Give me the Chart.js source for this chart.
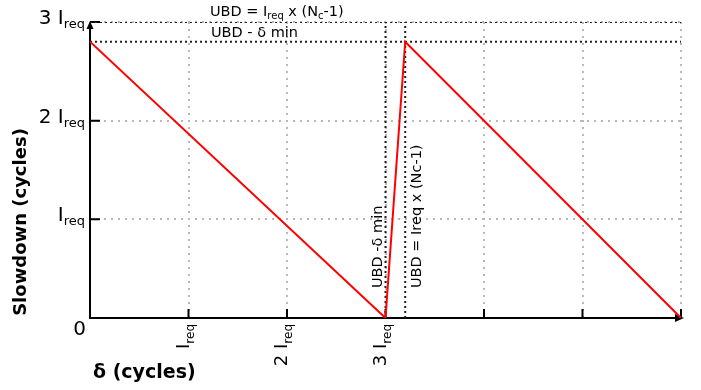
<!DOCTYPE html>
<html>
<head>
<meta charset="utf-8">
<script src="https://cdn.jsdelivr.net/npm/chart.js@4"></script>
<style>
  html, body { margin: 0; padding: 0; background: #fff; }
  #wrap { width: 701px; height: 390px; }
</style>
</head>
<body>
<div id="wrap"><canvas id="c" width="701" height="390"></canvas></div>
<script>
const FONT = '"DejaVu Sans", sans-serif';

// Sawtooth slowdown curve; δ and slowdown are both in units of I_req
const deltaPoints = [0, 3, 3.2, 6];
const slowdownPoints = [2.8, 0, 2.8, 0];

// Reference levels
const ubdLevel = 3;            // UBD = I_req x (N_c-1)
const ubdMinusDeltaMin = 2.8;  // UBD - δ min
const guideDeltas = [3, 3.2];  // same two bounds marked on the δ axis

// Axis tick labels: prefix followed by I_req
const xTickValues = [1, 2, 3];
const xTickPrefixes = ['', '2 ', '3 '];
const yTickValues = [1, 2, 3];
const yTickPrefixes = ['', '2 ', '3 '];
const xTickMarks = [1, 2, 3, 4, 5, 6];
const xMax = 6;
const yMax = 3;

const GUIDE_COLOR = '#222';
const GRID_COLOR = '#b8b8b8';
const NOTE_SIZE = 14.5;

// Draw a run of text pieces; pieces flagged "sub" are smaller and lowered
function drawRich(ctx, parts, x, y, mainSize, subSize, subDrop, align) {
  const fontFor = p => (p.sub ? subSize : mainSize) + 'px ' + FONT;
  let total = 0;
  parts.forEach(p => { ctx.font = fontFor(p); total += ctx.measureText(p.t).width; });
  let cx = align === 'right' ? x - total : x;
  ctx.textAlign = 'left';
  ctx.textBaseline = 'alphabetic';
  parts.forEach(p => {
    ctx.font = fontFor(p);
    ctx.fillText(p.t, cx, p.sub ? y + subDrop : y);
    cx += ctx.measureText(p.t).width;
  });
}

const reqParts = prefix => [{ t: prefix + 'I' }, { t: 'req', sub: true }];

const axesPlugin = {
  id: 'axesPlugin',
  beforeDatasetsDraw(chart) {
    const { ctx, scales: { x, y } } = chart;
    const x0 = x.getPixelForValue(0), xEnd = x.getPixelForValue(xMax);
    const y0 = y.getPixelForValue(0), yTop = y.getPixelForValue(yMax);
    ctx.save();
    ctx.strokeStyle = '#000';
    ctx.fillStyle = '#000';
    ctx.lineWidth = 2;
    ctx.setLineDash([]);
    // axis lines
    ctx.beginPath();
    ctx.moveTo(x0, y0 + 1);
    ctx.lineTo(x0, yTop + 6);
    ctx.moveTo(x0 - 1, y0);
    ctx.lineTo(xEnd - 6, y0);
    ctx.stroke();
    // arrow heads
    ctx.beginPath();
    ctx.moveTo(x0, yTop - 1);
    ctx.lineTo(x0 - 3.5, yTop + 7);
    ctx.lineTo(x0 + 3.5, yTop + 7);
    ctx.closePath();
    ctx.fill();
    ctx.beginPath();
    ctx.moveTo(xEnd + 3, y0);
    ctx.lineTo(xEnd - 6, y0 - 4);
    ctx.lineTo(xEnd - 6, y0 + 4);
    ctx.closePath();
    ctx.fill();
    // inward tick marks
    ctx.beginPath();
    yTickValues.forEach(v => {
      const py = y.getPixelForValue(v);
      ctx.moveTo(x0, py);
      ctx.lineTo(x0 + 10, py);
    });
    xTickMarks.forEach(v => {
      const px = x.getPixelForValue(v);
      ctx.moveTo(px, y0);
      ctx.lineTo(px, y0 - 9);
    });
    ctx.stroke();
    ctx.restore();
  },
  afterDraw(chart) {
    const { ctx, scales: { x, y } } = chart;
    const x0 = x.getPixelForValue(0);
    const y0 = y.getPixelForValue(0);
    ctx.save();
    ctx.fillStyle = '#000';

    // y tick labels
    yTickValues.forEach((v, i) => {
      const py = y.getPixelForValue(v);
      drawRich(ctx, reqParts(yTickPrefixes[i]), x0 - 5, py + 2, 20, 13, 4, 'right');
    });
    ctx.font = '20px ' + FONT;
    ctx.textAlign = 'right';
    ctx.textBaseline = 'alphabetic';
    ctx.fillText('0', x0 - 4, y0 + 17);

    // x tick labels, rotated to read upward
    xTickValues.forEach((v, i) => {
      const px = x.getPixelForValue(v);
      ctx.save();
      ctx.translate(px, y0 + 6);
      ctx.rotate(-Math.PI / 2);
      drawRich(ctx, reqParts(xTickPrefixes[i]), 0, 0, 18, 12, 5, 'right');
      ctx.restore();
    });

    // horizontal guide captions
    const yUbd = y.getPixelForValue(ubdLevel);
    const yUbdMin = y.getPixelForValue(ubdMinusDeltaMin);
    drawRich(ctx, [
      { t: 'UBD = I' }, { t: 'req', sub: true }, { t: ' x (N' }, { t: 'c', sub: true }, { t: '-1)' }
    ], 210, yUbd - 6.5, NOTE_SIZE, 10, 3.5, 'left');
    drawRich(ctx, [{ t: 'UBD - δ min' }], 211, yUbdMin - 5, NOTE_SIZE, 10, 3.5, 'left');

    // vertical guide captions
    const xg0 = x.getPixelForValue(guideDeltas[0]);
    const xg1 = x.getPixelForValue(guideDeltas[1]);
    ctx.font = NOTE_SIZE + 'px ' + FONT;
    ctx.textAlign = 'left';
    ctx.textBaseline = 'alphabetic';
    ctx.save();
    ctx.translate(xg0 - 4, y0 - 30);
    ctx.rotate(-Math.PI / 2);
    ctx.fillText('UBD -δ min', 0, 0);
    ctx.restore();
    ctx.save();
    ctx.translate(xg1 + 16, y0 - 30);
    ctx.rotate(-Math.PI / 2);
    ctx.fillText('UBD = Ireq x (Nc-1)', 0, 0);
    ctx.restore();

    // axis titles
    ctx.font = 'bold 18px ' + FONT;
    ctx.textBaseline = 'middle';
    ctx.textAlign = 'center';
    ctx.save();
    ctx.translate(21, 222);
    ctx.rotate(-Math.PI / 2);
    ctx.fillText('Slowdown (cycles)', 0, 0);
    ctx.restore();
    ctx.textAlign = 'left';
    ctx.font = 'bold 19px ' + FONT;
    ctx.fillText('δ (cycles)', 93, 373);

    ctx.restore();
  }
};

const guideStyle = {
  borderColor: GUIDE_COLOR,
  borderWidth: 2,
  borderDash: [2, 3],
  pointRadius: 0,
  fill: false
};

const datasets = [
  {
    label: 'Slowdown',
    data: deltaPoints.map((d, i) => ({ x: d, y: slowdownPoints[i] })),
    borderColor: '#ff0000',
    borderWidth: 2,
    pointRadius: 0,
    tension: 0,
    fill: false,
    order: 0
  },
  ...[ubdLevel, ubdMinusDeltaMin].map(v => ({
    ...guideStyle, order: 1,
    data: [{ x: 0, y: v }, { x: xMax, y: v }]
  })),
  ...guideDeltas.map(v => ({
    ...guideStyle, order: 1,
    data: [{ x: v, y: 0 }, { x: v, y: ubdLevel }]
  }))
];

const axisCommon = {
  type: 'linear',
  min: 0,
  ticks: { display: false, stepSize: 1 },
  grid: { color: GRID_COLOR, lineWidth: 2, drawTicks: false },
  border: { display: false, dash: [2, 5] }
};

new Chart(document.getElementById('c'), {
  type: 'line',
  data: { datasets },
  options: {
    responsive: false,
    devicePixelRatio: 1,
    animation: false,
    layout: { padding: { left: 90, top: 22, right: 20, bottom: 72 } },
    plugins: { legend: { display: false }, tooltip: { enabled: false } },
    scales: {
      x: { ...axisCommon, max: xMax },
      y: { ...axisCommon, max: yMax }
    }
  },
  plugins: [axesPlugin]
});
</script>
</body>
</html>
